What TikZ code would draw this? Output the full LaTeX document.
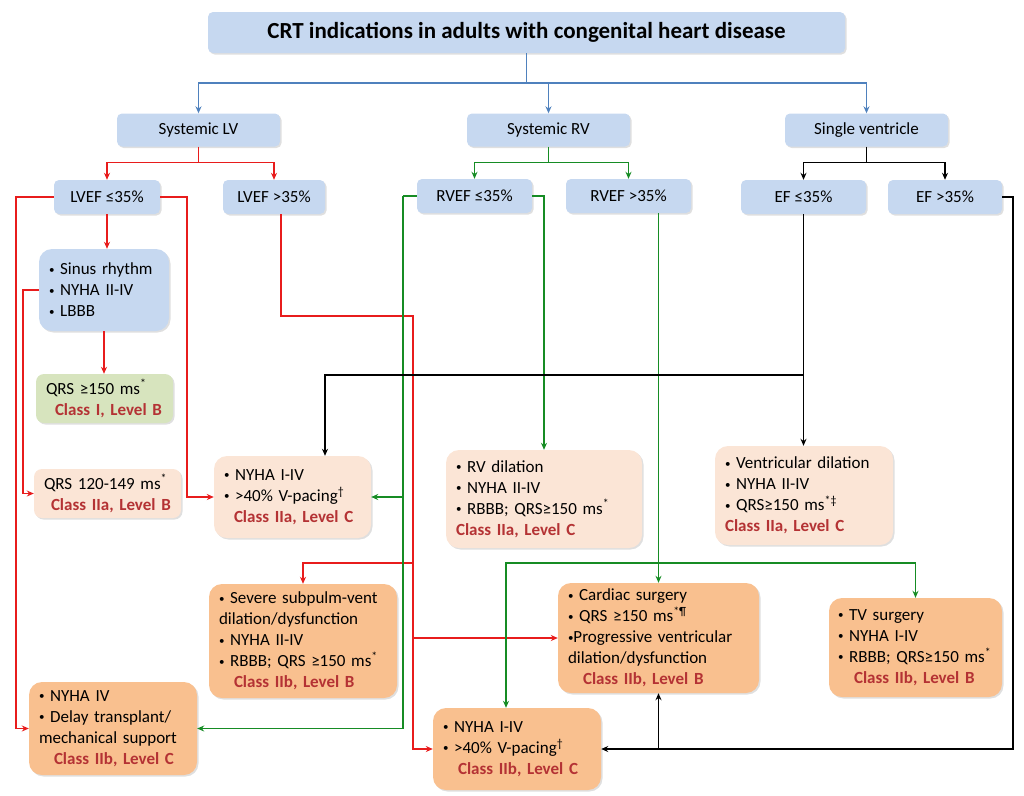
\documentclass[tikz,border=0pt]{standalone}
\usepackage{fontspec}
\setmainfont{Carlito}
\usetikzlibrary{arrows.meta,shadows}

\definecolor{hdrblue}{RGB}{198,216,240}
\definecolor{okgreen}{RGB}{215,228,190}
\definecolor{peach}{RGB}{251,229,214}
\definecolor{apricot}{RGB}{249,192,143}
\definecolor{clsred}{RGB}{180,50,52}
\definecolor{redline}{RGB}{232,28,28}
\definecolor{greenline}{RGB}{22,140,36}
\definecolor{blueline}{RGB}{79,129,189}

\newcommand{\clsline}[1]{{\bfseries\color{clsred}#1}}
\newcommand{\sym}[1]{\textsuperscript{#1}}
\newcommand{\dotmark}{\raisebox{1.6pt}{\fontsize{11}{11}\selectfont •}}
\newcommand{\bul}{\dotmark\ }

\begin{document}
\begin{tikzpicture}[x=1pt,y=-1pt,
  >={Stealth[length=7pt,width=6pt]},
  base/.style={rounded corners=13pt,inner xsep=10pt,inner ysep=3pt,align=left,
    font=\fontsize{17}{21}\selectfont,
    drop shadow={shadow xshift=1.5pt,shadow yshift=-1.5pt,opacity=0.25}},
  hdr/.style={base,rounded corners=5pt,fill=hdrblue,align=center,minimum height=34pt},
  crit/.style={base,fill=hdrblue},
  good/.style={base,rounded corners=8pt,fill=okgreen},
  pale/.style={base,fill=peach},
  deep/.style={base,fill=apricot},
  topline/.style={draw=blueline,line width=1.6pt},
  lvline/.style={draw=redline,line width=1.5pt},
  rvline/.style={draw=greenline,line width=1.5pt},
  svline/.style={draw=black,line width=1.5pt}]
\useasboundingbox (0,0) rectangle (1024,795);

% title and the three groups
\node[hdr,minimum width=637pt,minimum height=41pt,font=\fontsize{23}{26}\selectfont\bfseries] (title) at (526.5,32.5) {CRT indications in adults with congenital heart disease};
\node[hdr,minimum width=163pt,minimum height=33pt] (slv) at (198.5,130) {Systemic LV};
\node[hdr,minimum width=163pt,minimum height=33pt] (srv) at (548.5,130) {Systemic RV};
\node[hdr,minimum width=163pt,minimum height=33pt] (sv) at (866.5,130) {Single ventricle};

\node[hdr,minimum width=106pt] (lvlo) at (107,197) {LVEF ≤35\%};
\node[hdr,minimum width=102pt] (lvhi) at (274,197) {LVEF >35\%};
\node[hdr,minimum width=115pt] (rvlo) at (474.5,196) {RVEF ≤35\%};
\node[hdr,minimum width=125pt] (rvhi) at (628.5,196) {RVEF >35\%};
\node[hdr,minimum width=125pt] (eflo) at (803.5,197) {EF ≤35\%};
\node[hdr,minimum width=114pt] (efhi) at (945,197) {EF >35\%};

% criteria boxes
\node[crit,text width=110pt,minimum height=82pt] (sinus) at (104,290)
  {\bul Sinus rhythm\\\bul NYHA II-IV\\\bul LBBB};
\node[good,text width=117pt,minimum height=49pt] (qrslong) at (104.5,398.5)
  {QRS ≥150 ms\sym{*}\\\hspace*{9pt}\clsline{Class I, Level B}};
\node[pale,rounded corners=8pt,text width=127pt,minimum height=49pt] (qrsmid) at (107.5,493.5)
  {QRS 120-149 ms\sym{*}\\\hspace*{7pt}\clsline{Class IIa, Level B}};
\node[pale,text width=137pt,minimum height=82pt] (pacea) at (292.5,497)
  {\bul NYHA I-IV\\\bul >40\% V-pacing\sym{†}\\\hspace*{10pt}\clsline{Class IIa, Level C}};
\node[pale,text width=176pt,minimum height=98pt] (rvdil) at (544,499)
  {\bul RV dilation\\\bul NYHA II-IV\\\bul RBBB; QRS≥150 ms\sym{*}\\\clsline{Class IIa, Level C}};
\node[pale,text width=158pt,minimum height=99pt] (ventdil) at (804,495.5)
  {\bul Ventricular dilation\\\bul NYHA II-IV\\\bul QRS≥150 ms\sym{*‡}\\\clsline{Class IIa, Level C}};
\node[deep,text width=168pt,minimum height=114pt] (subpulm) at (303,641)
  {\bul Severe subpulm-vent\\dilation/dysfunction\\\bul NYHA II-IV\\\bul RBBB; QRS ≥150 ms\sym{*}\\\hspace*{15pt}\clsline{Class IIb, Level B}};
\node[deep,text width=181pt,minimum height=110pt] (surg) at (658.5,638)
  {\bul Cardiac surgery\\\bul QRS ≥150 ms\sym{*¶}\\\dotmark Progressive ventricular\\dilation/dysfunction\\\hspace*{15pt}\clsline{Class IIb, Level B}};
\node[deep,text width=155pt,inner xsep=9pt,minimum height=99pt] (tvsurg) at (915.5,647.5)
  {\bul TV surgery\\\bul NYHA I-IV\\\mbox{\bul RBBB; QRS≥150 ms\sym{*}}\\\hspace*{16pt}\clsline{Class IIb, Level B}};
\node[deep,text width=148pt,minimum height=93pt] (transpl) at (113,728.5)
  {\bul NYHA IV\\\bul Delay transplant/\\mechanical support\\\hspace*{15pt}\clsline{Class IIb, Level C}};
\node[deep,text width=148pt,minimum height=82pt] (paceb) at (517,749)
  {\bul NYHA I-IV\\\bul >40\% V-pacing\sym{†}\\\hspace*{15pt}\clsline{Class IIb, Level C}};

% title connector
\draw[topline] (title.south) -- (526.5,83) coordinate (tj);
\draw[topline,->] (tj) -| (slv.north);
\draw[topline,->] (tj) -| (srv.north);
\draw[topline,->] (tj) -| (sv.north);

% systemic LV
\draw[lvline] (slv.south) -- ++(0,16) coordinate (lvj);
\draw[lvline,->] (lvj) -| (lvlo.north);
\draw[lvline,->] (lvj) -| (lvhi.north);
\draw[lvline,->] (lvlo.south) -- (lvlo.south |- sinus.north);
\draw[lvline,->] (sinus.south) -- (sinus.south |- qrslong.north);
\draw[lvline,->] (lvlo.west) -- ++(-38,0) |- (transpl.west);
\draw[lvline,->] (sinus.west) -- ++(-16,0) |- (qrsmid.west);
\draw[lvline,->] (lvlo.east) -- ++(27,0) |- (pacea.west);
\coordinate (lvk) at (413,316);
\coordinate (lvsp) at (413,563);
\draw[lvline,->] ([xshift=7pt]lvhi.south) |- (lvk) |- (paceb.west);
\draw[lvline,->] (lvsp) -| (subpulm.north);
\draw[lvline,->] (lvk |- surg.west) -- (surg.west);

% systemic RV
\draw[rvline] (srv.south) -- ++(0,16) coordinate (rvj);
\draw[rvline,->] (rvj) -| (rvlo.north);
\draw[rvline,->] (rvj) -| (rvhi.north);
\draw[rvline] (rvlo.west) -- ++(-14,0) coordinate (rvk);
\draw[rvline,->] (rvk) |- (transpl.east);
\draw[rvline,->] (rvk |- pacea.east) -- (pacea.east);
\draw[rvline,->] (rvlo.east) -| (rvdil.north);
\draw[rvline,->] (rvhi.south -| surg.north) -- (surg.north);
\coordinate (rvsp) at (658.5,563);
\draw[rvline,->] (rvsp) -| (tvsurg.north);
\draw[rvline,->] (rvsp) -| ([xshift=-11pt]paceb.north);

% single ventricle
\draw[svline] (sv.south) -- ++(0,16) coordinate (svj);
\draw[svline,->] (svj) -| (eflo.north);
\draw[svline,->] (svj) -| (efhi.north);
\draw[svline,->] (eflo.south) -- (eflo.south |- ventdil.north);
\coordinate (svk) at (803.5,375);
\draw[svline,->] (svk) -| ([xshift=32.5pt]pacea.north);
\draw[svline,->] (efhi.east) -- ++(11,0) |- (paceb.east);
\draw[svline,->] (surg.south |- paceb.east) -- (surg.south);
\end{tikzpicture}
\end{document}
